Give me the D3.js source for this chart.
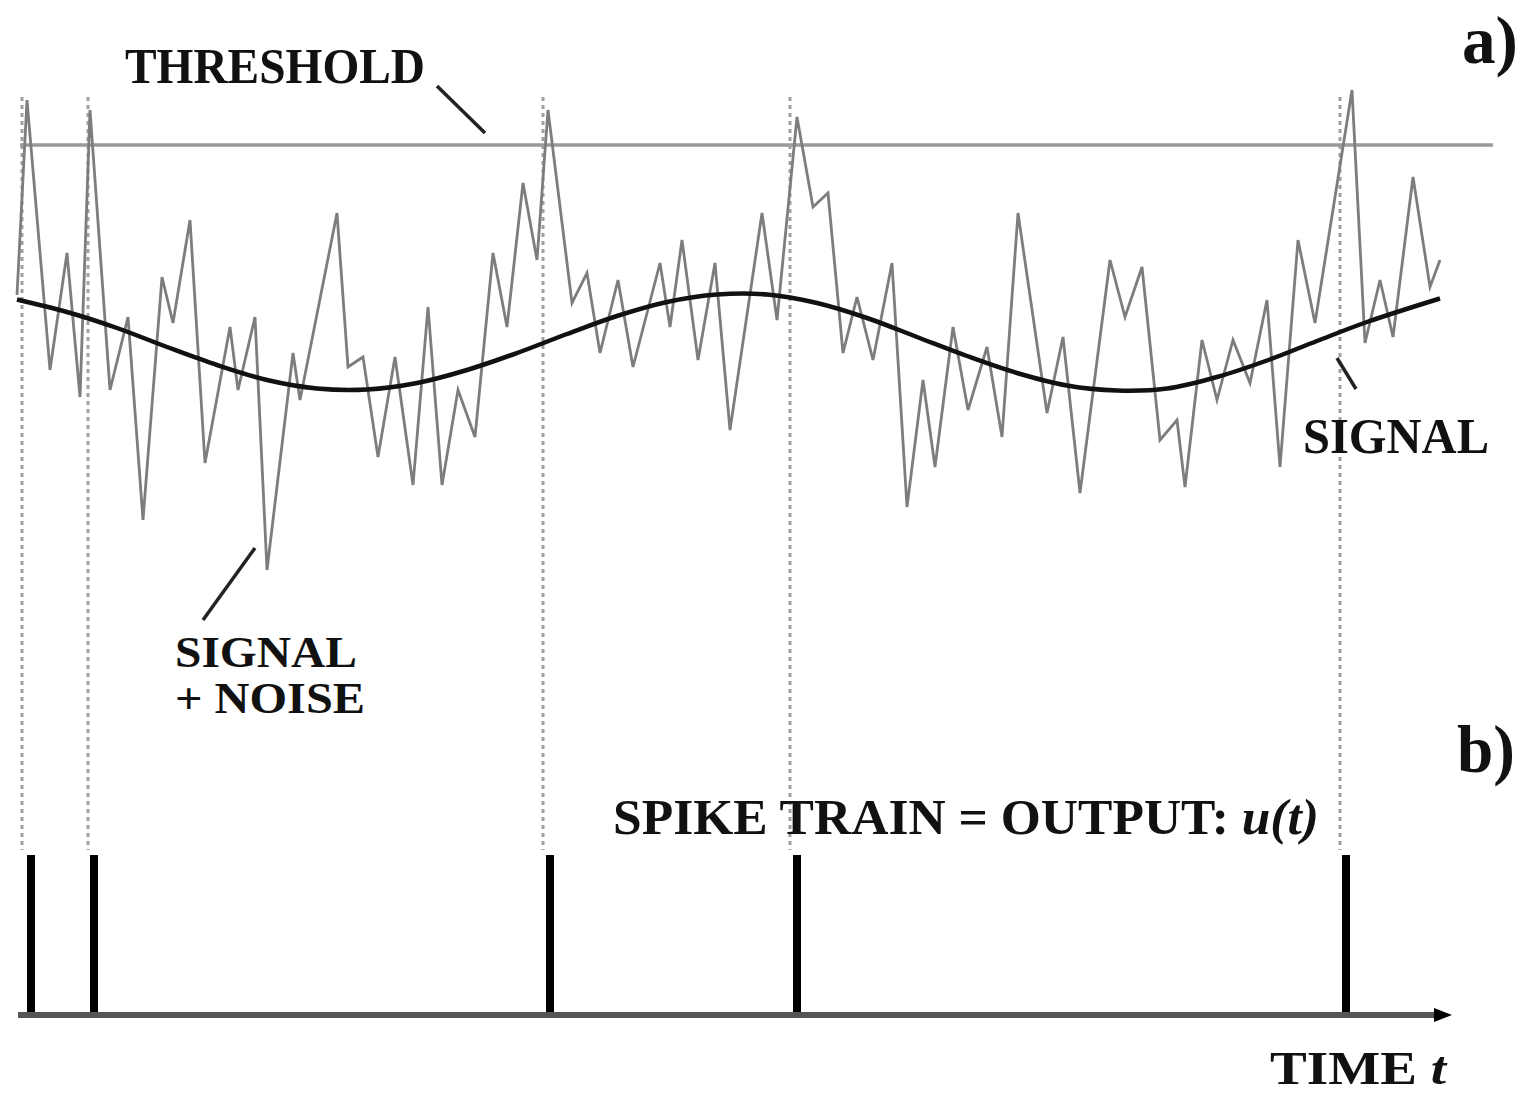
<!DOCTYPE html>
<html><head><meta charset="utf-8">
<script src="https://cdn.jsdelivr.net/npm/d3@7"></script>
<style>html,body{margin:0;padding:0;background:#fff;} svg{display:block;}</style>
</head><body>
<svg id="chart" width="1524" height="1094"></svg>
<script>
// ---- data (time units, amplitude units) ----
const noiseT = [0,1.0,3.3,5.0,6.3,7.3,9.3,11.1,12.6,14.5,15.6,17.3,18.8,21.3,22.1,23.8,25.0,27.6,28.3,32.0,33.1,34.6,36.1,37.8,39.6,41.1,42.5,44.1,45.8,47.6,49.0,50.6,52.0,53.1,55.5,57.0,58.3,60.1,61.6,64.3,65.3,66.5,68.1,69.8,71.3,74.5,76.0,78.0,79.6,81.1,82.6,84.0,85.6,87.5,89.0,90.6,91.8,93.6,95.1,97.0,98.5,100.1,103.0,104.6,106.3,109.3,110.8,112.5,114.3,116.0,116.8,118.5,120.0,121.6,123.3,125.0,126.3,128.1,129.8,133.5,134.8,136.3,137.6,139.6,141.3,142.3];
const noiseV = [0.94,4.84,-0.56,1.78,-1.10,4.64,-0.96,0.50,-3.56,1.30,0.38,2.44,-2.42,0.30,-0.96,0.50,-4.56,-0.22,-1.16,2.58,-0.50,-0.30,-2.30,-0.30,-2.86,0.70,-2.86,-0.96,-1.90,1.78,0.30,3.18,1.64,4.64,0.78,1.38,-0.22,1.24,-0.50,1.58,0.30,2.04,-0.36,1.58,-1.76,2.58,0.44,4.50,2.70,2.98,-0.22,0.90,-0.36,1.58,-3.30,-0.76,-2.50,0.30,-1.36,-0.10,-1.90,2.58,-1.42,0.10,-3.02,1.64,0.50,1.50,-1.96,-1.56,-2.90,0.04,-1.16,0.04,-0.82,0.84,-2.50,2.04,0.38,5.04,-0.02,1.24,0.10,3.30,1.10,1.64];
const signalT = [0,5,10,15,20,25,30,35,40,45,50,55,60,65,70,75,80,85,90,95,100,105,110,115,120,125,130,135,142.3];
const signalV = [0.85,0.60,0.28,-0.10,-0.46,-0.76,-0.93,-0.95,-0.82,-0.56,-0.22,0.16,0.52,0.80,0.95,0.95,0.78,0.48,0.10,-0.28,-0.62,-0.87,-0.97,-0.93,-0.70,-0.37,0.02,0.40,0.87];
const thresholdV = 3.94;
const thresholdSpan = [0.3, 147.6];
const crossTimes = [0.5, 7.1, 52.6, 77.3, 132.3];
const spikeTimes = [1.4, 7.7, 53.3, 78.0, 132.9];
const axisSpan = [0.1, 142.3];

const svg = d3.select('#chart');
const x = d3.scaleLinear().domain([0, 142.3]).range([17, 1440]);
const y = d3.scaleLinear().domain([-5, 5]).range([592, 92]);
const yOut = d3.scaleLinear().domain([0, 1]).range([1015, 855]);

const FONT = '"Liberation Serif","Times New Roman",serif';

// threshold
svg.append('line')
  .attr('x1', x(thresholdSpan[0])).attr('x2', x(thresholdSpan[1]))
  .attr('y1', y(thresholdV)).attr('y2', y(thresholdV))
  .attr('stroke', '#9a9a9a').attr('stroke-width', 3.5);

// dotted guide lines
svg.selectAll('line.guide').data(crossTimes).join('line')
  .attr('class', 'guide')
  .attr('x1', d => x(d)).attr('x2', d => x(d))
  .attr('y1', y(4.9)).attr('y2', yOut(1) - 5)
  .attr('stroke', '#a0a0a0').attr('stroke-width', 3)
  .attr('stroke-dasharray', '4,4');

// signal + noise
const noise = noiseT.map((t, i) => [t, noiseV[i]]);
svg.append('path').datum(noise)
  .attr('d', d3.line().x(d => x(d[0])).y(d => y(d[1])))
  .attr('fill', 'none').attr('stroke', '#7d7d7d').attr('stroke-width', 2.8)
  .attr('stroke-linejoin', 'miter');

// signal
const signal = signalT.map((t, i) => [t, signalV[i]]);
svg.append('path').datum(signal)
  .attr('d', d3.line().curve(d3.curveCatmullRom).x(d => x(d[0])).y(d => y(d[1])))
  .attr('fill', 'none').attr('stroke', '#111').attr('stroke-width', 4.5);

// spikes
svg.selectAll('rect.spike').data(spikeTimes).join('rect')
  .attr('class', 'spike')
  .attr('x', d => x(d) - 4).attr('width', 8)
  .attr('y', yOut(1)).attr('height', yOut(0) - yOut(1))
  .attr('fill', '#000');

// time axis with arrow
svg.append('line')
  .attr('x1', x(axisSpan[0])).attr('x2', x(axisSpan[1]))
  .attr('y1', yOut(0)).attr('y2', yOut(0))
  .attr('stroke', '#555').attr('stroke-width', 6);
const ax = x(axisSpan[1]), ay = yOut(0);
svg.append('path')
  .attr('d', `M${ax - 6},${ay - 7} L${ax + 12},${ay} L${ax - 6},${ay + 7} Z`)
  .attr('fill', '#000');

// annotation pointers
const pointers = [
  [[42.0, 5.12], [46.8, 4.18]],
  [[18.6, -5.56], [23.8, -4.12]],
  [[132.0, -0.32], [133.9, -0.94]]
];
pointers.forEach(p => {
  svg.append('line')
    .attr('x1', x(p[0][0])).attr('y1', y(p[0][1]))
    .attr('x2', x(p[1][0])).attr('y2', y(p[1][1]))
    .attr('stroke', '#222').attr('stroke-width', 3.5);
});

// labels
function label(txt, px, py, size, len, italicTail) {
  const t = svg.append('text')
    .attr('x', px).attr('y', py)
    .attr('font-family', FONT).attr('font-weight', 'bold')
    .attr('font-size', size).attr('fill', '#111');
  t.append('tspan').text(txt);
  if (italicTail) t.append('tspan').attr('font-style', 'italic').text(italicTail);
  if (len) t.attr('textLength', len).attr('lengthAdjust', 'spacingAndGlyphs');
  return t;
}
label('THRESHOLD', x(10.8), y(5.18), 50, 300);
label('a)', x(144.5), y(5.58), 68, 56);
label('b)', x(144.0), yOut(1.52), 68, 58);
label('SIGNAL', x(128.6), y(-2.22), 50, 186);
label('SIGNAL', x(15.8), y(-6.5), 44, 182);
label('+ NOISE', x(15.8), y(-7.42), 44, 190);
label('SPIKE TRAIN = OUTPUT: ', x(59.6), yOut(1.13), 50, 706, 'u(t)');
label('TIME  ', x(125.3), yOut(-0.43), 46, 176, 't');
</script>
</body></html>
